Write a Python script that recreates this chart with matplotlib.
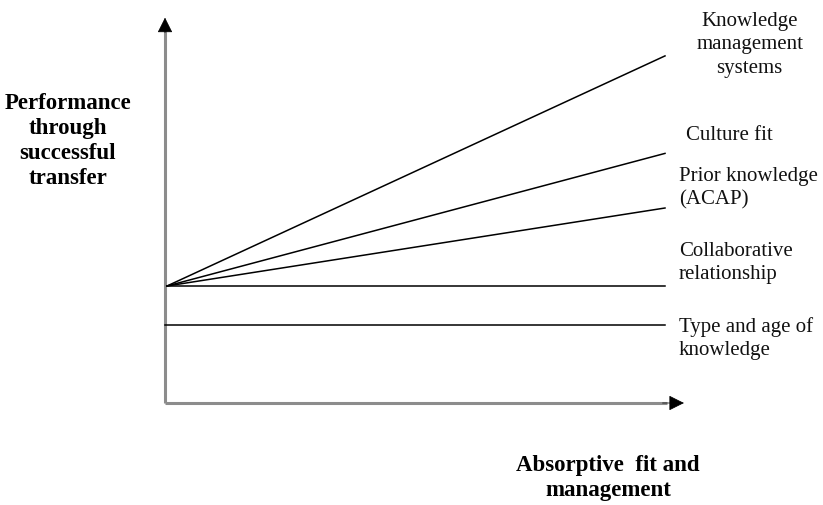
import matplotlib.pyplot as plt

# Conceptual model: performance vs absorptive fit (arbitrary units)
factors = ['Knowledge\nmanagement\nsystems', 'Culture fit', 'Prior knowledge\n(ACAP)',
           'Collaborative\nrelationship', 'Type and age of\nknowledge']
start_values = [3.0, 3.0, 3.0, 3.0, 2.0]
end_values = [8.9, 6.4, 5.0, 3.0, 2.0]
x_start = 0.0
x_end = 10.0

# label anchor points (data units) and alignment
label_x = [11.7, 10.42, 10.28, 10.28, 10.28]
label_y = [9.18, 6.87, 5.5, 3.6, 1.65]
label_ha = ['center', 'left', 'left', 'left', 'left']

plt.rcParams['font.family'] = ['Liberation Serif', 'DejaVu Serif']

fig = plt.figure(figsize=(8.23, 5.05), dpi=100)
ax = fig.add_axes([167 / 823, 102 / 505, 498 / 823, 390 / 505])
ax.set_xlim(0, 10)
ax.set_ylim(0, 10)
ax.axis('off')

# axes lines (grey) with black arrow heads
ax.plot([-0.04, -0.04], [0, 9.6], color='#8c8c8c', lw=2.2, clip_on=False,
        solid_capstyle='butt')
ax.plot([-0.04, 10.05], [0, 0], color='#8c8c8c', lw=2.2, clip_on=False,
        solid_capstyle='butt')
head = dict(arrowstyle='-|>,head_length=0.6,head_width=0.3', color='black', lw=0.5,
            mutation_scale=16, shrinkA=0, shrinkB=0)
ax.annotate('', xy=(-0.04, 9.88), xytext=(-0.04, 9.5), arrowprops=head,
            annotation_clip=False)
ax.annotate('', xy=(10.38, 0), xytext=(9.95, 0), arrowprops=head,
            annotation_clip=False)

for i, name in enumerate(factors):
    xs = [x_start if start_values[i] == 3.0 else -0.04, x_end]
    ax.plot(xs, [start_values[i], end_values[i]], color='black', lw=1.1,
            clip_on=False)
    ax.text(label_x[i], label_y[i], name, ha=label_ha[i], va='center',
            fontsize=15, linespacing=1.3, color='#111111', clip_on=False)

fig.text(68 / 823, 1 - 141 / 505, 'Performance\nthrough\nsuccessful\ntransfer',
         ha='center', va='center', fontsize=16.5, fontweight='bold', linespacing=1.25)
fig.text(608 / 823, 1 - 478 / 505, 'Absorptive  fit and\nmanagement',
         ha='center', va='center', fontsize=16.5, fontweight='bold', linespacing=1.25)

fig.savefig('out.png', dpi=100)
